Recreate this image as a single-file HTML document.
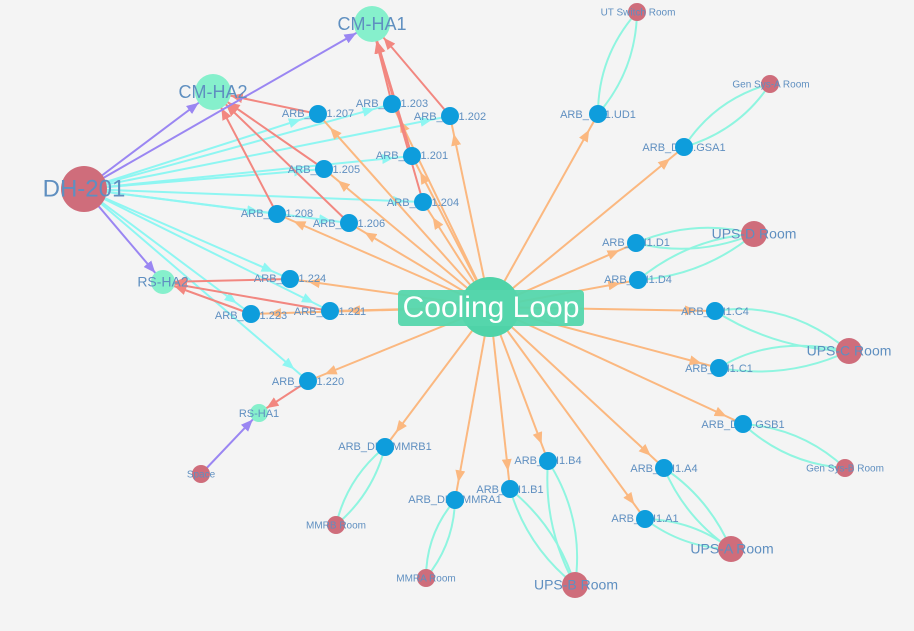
<!DOCTYPE html>
<html><head><meta charset="utf-8"><style>
html,body{margin:0;padding:0;background:#f4f4f4;}
svg{display:block;font-family:"Liberation Sans",sans-serif;}
.o{stroke:#fbb880;stroke-width:2;fill:none;marker-end:url(#mo);}
.c{stroke:#8ef6f2;stroke-width:2;fill:none;marker-end:url(#mc);}
.r{stroke:#f28780;stroke-width:2;fill:none;}
.p{stroke:#9a86f2;stroke-width:2;fill:none;}
.cc{stroke:#8ff5e0;stroke-width:2;fill:none;}
.lb{fill:#5f8fc0;font-size:11px;text-anchor:middle;dominant-baseline:middle;}
.b{fill:#0e9ddc;}
.rm{fill:#cf6d7b;}
.g{fill:#86f0cc;}
</style></head><body>
<svg width="914" height="631" viewBox="0 0 914 631">
<defs>
<marker id="mo" markerUnits="userSpaceOnUse" viewBox="0 0 12 10" markerWidth="12" markerHeight="10" refX="30" refY="5" orient="auto"><path d="M0,0L12,5L0,10z" fill="#fbb880"/></marker>
<marker id="mc" markerUnits="userSpaceOnUse" viewBox="0 0 12 10" markerWidth="12" markerHeight="10" refX="30" refY="5" orient="auto"><path d="M0,0L12,5L0,10z" fill="#8ef6f2"/></marker>
<marker id="mr9" markerUnits="userSpaceOnUse" viewBox="0 0 12 10" markerWidth="12" markerHeight="10" refX="21" refY="5" orient="auto"><path d="M0,0L12,5L0,10z" fill="#f28780"/></marker>
<marker id="mr12" markerUnits="userSpaceOnUse" viewBox="0 0 12 10" markerWidth="12" markerHeight="10" refX="24" refY="5" orient="auto"><path d="M0,0L12,5L0,10z" fill="#f28780"/></marker>
<marker id="mr18" markerUnits="userSpaceOnUse" viewBox="0 0 12 10" markerWidth="12" markerHeight="10" refX="30" refY="5" orient="auto"><path d="M0,0L12,5L0,10z" fill="#f28780"/></marker>
<marker id="mp9" markerUnits="userSpaceOnUse" viewBox="0 0 12 10" markerWidth="12" markerHeight="10" refX="21" refY="5" orient="auto"><path d="M0,0L12,5L0,10z" fill="#9a86f2"/></marker>
<marker id="mp12" markerUnits="userSpaceOnUse" viewBox="0 0 12 10" markerWidth="12" markerHeight="10" refX="24" refY="5" orient="auto"><path d="M0,0L12,5L0,10z" fill="#9a86f2"/></marker>
<marker id="mp18" markerUnits="userSpaceOnUse" viewBox="0 0 12 10" markerWidth="12" markerHeight="10" refX="30" refY="5" orient="auto"><path d="M0,0L12,5L0,10z" fill="#9a86f2"/></marker>
</defs>

<!-- room curves -->
<g class="cc">
<path d="M637,12Q636,70 598,114"/><path d="M637,12Q598,56 598,114"/>
<path d="M770,84Q739,131 684,147"/><path d="M770,84Q715,99 684,147"/>
<path d="M754,234Q695,218 636,243"/><path d="M754,234Q695,258 636,243"/>
<path d="M754,234Q703,276 638,280"/><path d="M754,234Q689,238 638,280"/>
<path d="M849,351Q776,350 715,311"/><path d="M849,351Q788,300 715,311"/>
<path d="M849,351Q787,380 719,368"/><path d="M849,351Q770,335 719,368"/>
<path d="M845,468Q786,464 743,424"/><path d="M845,468Q802,428 743,424"/>
<path d="M731,549Q685,518 664,468"/><path d="M731,549Q709,498 664,468"/>
<path d="M731,549Q683,548 645,519"/><path d="M731,549Q693,520 645,519"/>
<path d="M575,585Q543,527 548,461"/><path d="M575,585Q585,519 548,461"/>
<path d="M575,585Q527,547 510,489"/><path d="M575,585Q557,527 510,489"/>
<path d="M336,525Q373,494 385,447"/><path d="M336,525Q347,478 385,447"/>
<path d="M426,578Q454,544 455,500"/><path d="M426,578Q426,534 455,500"/>
</g>

<!-- cyan from DH-201 -->
<g class="c">
<line x1="84" y1="189" x2="318" y2="114"/><line x1="84" y1="189" x2="392" y2="104"/>
<line x1="84" y1="189" x2="450" y2="116"/><line x1="84" y1="189" x2="412" y2="156"/>
<line x1="84" y1="189" x2="324" y2="169"/><line x1="84" y1="189" x2="423" y2="202"/>
<line x1="84" y1="189" x2="277" y2="214"/><line x1="84" y1="189" x2="349" y2="223"/>
<line x1="84" y1="189" x2="290" y2="279"/><line x1="84" y1="189" x2="330" y2="311"/>
<line x1="84" y1="189" x2="251" y2="314"/><line x1="84" y1="189" x2="308" y2="381"/>
</g>

<!-- orange from center -->
<g class="o">
<line x1="490" y1="307" x2="318" y2="114"/><line x1="490" y1="307" x2="392" y2="104"/>
<line x1="490" y1="307" x2="450" y2="116"/><line x1="490" y1="307" x2="412" y2="156"/>
<line x1="490" y1="307" x2="324" y2="169"/><line x1="490" y1="307" x2="423" y2="202"/>
<line x1="490" y1="307" x2="277" y2="214"/><line x1="490" y1="307" x2="349" y2="223"/>
<line x1="490" y1="307" x2="290" y2="279"/><line x1="490" y1="307" x2="330" y2="311"/>
<line x1="490" y1="307" x2="251" y2="314"/><line x1="490" y1="307" x2="308" y2="381"/>
<line x1="490" y1="307" x2="598" y2="114"/><line x1="490" y1="307" x2="684" y2="147"/>
<line x1="490" y1="307" x2="636" y2="243"/><line x1="490" y1="307" x2="638" y2="280"/>
<line x1="490" y1="307" x2="715" y2="311"/><line x1="490" y1="307" x2="719" y2="368"/>
<line x1="490" y1="307" x2="743" y2="424"/><line x1="490" y1="307" x2="385" y2="447"/>
<line x1="490" y1="307" x2="455" y2="500"/><line x1="490" y1="307" x2="548" y2="461"/>
<line x1="490" y1="307" x2="510" y2="489"/><line x1="490" y1="307" x2="664" y2="468"/>
<line x1="490" y1="307" x2="645" y2="519"/>
</g>

<!-- red -->
<g class="r">
<line x1="392" y1="104" x2="372" y2="24" marker-end="url(#mr18)"/>
<line x1="450" y1="116" x2="372" y2="24" marker-end="url(#mr18)"/>
<line x1="412" y1="156" x2="372" y2="24" marker-end="url(#mr18)"/>
<line x1="423" y1="202" x2="372" y2="24" marker-end="url(#mr18)"/>
<line x1="318" y1="114" x2="213" y2="92" marker-end="url(#mr18)"/>
<line x1="324" y1="169" x2="213" y2="92" marker-end="url(#mr18)"/>
<line x1="277" y1="214" x2="213" y2="92" marker-end="url(#mr18)"/>
<line x1="349" y1="223" x2="213" y2="92" marker-end="url(#mr18)"/>
<line x1="290" y1="279" x2="163" y2="282" marker-end="url(#mr12)"/>
<line x1="330" y1="311" x2="163" y2="282" marker-end="url(#mr12)"/>
<line x1="251" y1="314" x2="163" y2="282" marker-end="url(#mr12)"/>
<line x1="308" y1="381" x2="259" y2="413" marker-end="url(#mr9)"/>
</g>
<!-- purple -->
<g class="p">
<line x1="84" y1="189" x2="213" y2="92" marker-end="url(#mp18)"/>
<line x1="84" y1="189" x2="372" y2="24" marker-end="url(#mp18)"/>
<line x1="84" y1="189" x2="163" y2="282" marker-end="url(#mp12)"/>
<line x1="201" y1="474" x2="259" y2="413" marker-end="url(#mp9)"/>
</g>

<!-- ARB labels -->
<g class="lb">
<text x="318" y="114">ARB_DH1.207</text><text x="392" y="104">ARB_DH1.203</text>
<text x="450" y="117">ARB_DH1.202</text><text x="412" y="156">ARB_DH1.201</text>
<text x="324" y="170">ARB_DH1.205</text><text x="423" y="203">ARB_DH1.204</text>
<text x="277" y="214">ARB_DH1.208</text><text x="349" y="224">ARB_DH1.206</text>
<text x="290" y="279">ARB_DH1.224</text><text x="330" y="312">ARB_DH1.221</text>
<text x="251" y="316">ARB_DH1.223</text><text x="308" y="382">ARB_DH1.220</text>
<text x="598" y="115">ARB_DH1.UD1</text><text x="684" y="148">ARB_DH1.GSA1</text>
<text x="636" y="243">ARB_DH1.D1</text><text x="638" y="280">ARB_DH1.D4</text>
<text x="715" y="312">ARB_DH1.C4</text><text x="719" y="369">ARB_DH1.C1</text>
<text x="743" y="425">ARB_DH1.GSB1</text><text x="385" y="447">ARB_DH1.MMRB1</text>
<text x="455" y="500">ARB_DH1.MMRA1</text><text x="548" y="461">ARB_DH1.B4</text>
<text x="510" y="490">ARB_DH1.B1</text><text x="664" y="469">ARB_DH1.A4</text>
<text x="645" y="519">ARB_DH1.A1</text>
</g>
<!-- ARB nodes -->
<g class="b">
<circle cx="318" cy="114" r="9"/><circle cx="392" cy="104" r="9"/><circle cx="450" cy="116" r="9"/>
<circle cx="412" cy="156" r="9"/><circle cx="324" cy="169" r="9"/><circle cx="423" cy="202" r="9"/>
<circle cx="277" cy="214" r="9"/><circle cx="349" cy="223" r="9"/><circle cx="290" cy="279" r="9"/>
<circle cx="330" cy="311" r="9"/><circle cx="251" cy="314" r="9"/><circle cx="308" cy="381" r="9"/>
<circle cx="598" cy="114" r="9"/><circle cx="684" cy="147" r="9"/><circle cx="636" cy="243" r="9"/>
<circle cx="638" cy="280" r="9"/><circle cx="715" cy="311" r="9"/><circle cx="719" cy="368" r="9"/>
<circle cx="743" cy="424" r="9"/><circle cx="385" cy="447" r="9"/><circle cx="455" cy="500" r="9"/>
<circle cx="548" cy="461" r="9"/><circle cx="510" cy="489" r="9"/><circle cx="664" cy="468" r="9"/>
<circle cx="645" cy="519" r="9"/>
</g>

<!-- big nodes -->
<circle class="rm" cx="84" cy="189" r="23"/>
<circle class="g" cx="213" cy="92" r="18"/>
<circle class="g" cx="372" cy="24" r="18"/>
<circle class="g" cx="163" cy="282" r="12"/>
<circle class="g" cx="259" cy="413" r="9"/>
<circle class="rm" cx="201" cy="474" r="9"/>
<circle class="rm" cx="336" cy="525" r="9"/>
<circle class="rm" cx="426" cy="578" r="9"/>
<circle class="rm" cx="575" cy="585" r="13"/>
<circle class="rm" cx="731" cy="549" r="13"/>
<circle class="rm" cx="845" cy="468" r="9"/>
<circle class="rm" cx="849" cy="351" r="13"/>
<circle class="rm" cx="754" cy="234" r="13"/>
<circle class="rm" cx="770" cy="84" r="9"/>
<circle class="rm" cx="637" cy="12" r="9"/>

<g class="lb">
<text x="84" y="190" style="font-size:24px">DH-201</text>
<text x="213" y="93" style="font-size:18px">CM-HA2</text>
<text x="372" y="25" style="font-size:18px">CM-HA1</text>
<text x="163" y="283" style="font-size:14px">RS-HA2</text>
<text x="259" y="414">RS-HA1</text>
<text x="201" y="475" style="font-size:10px">Space</text>
<text x="336" y="526" style="font-size:10px">MMRB Room</text>
<text x="426" y="579" style="font-size:10px">MMRA Room</text>
<text x="576" y="586" style="font-size:14px">UPS-B Room</text>
<text x="732" y="550" style="font-size:14px">UPS-A Room</text>
<text x="845" y="469" style="font-size:10px">Gen Sys-B Room</text>
<text x="849" y="352" style="font-size:14px">UPS-C Room</text>
<text x="754" y="235" style="font-size:14px">UPS-D Room</text>
<text x="771" y="85" style="font-size:10px">Gen Sys-A Room</text>
<text x="638" y="13" style="font-size:10px">UT Switch Room</text>
</g>

<!-- center -->
<circle cx="490" cy="307" r="30" fill="#4fd3a8"/>
<rect x="398" y="290" width="186" height="36" rx="4" fill="#55d6ac" opacity="0.95"/>
<text x="491" y="309" fill="#fff" font-size="30" text-anchor="middle" dominant-baseline="middle">Cooling Loop</text>
</svg>
</body></html>
